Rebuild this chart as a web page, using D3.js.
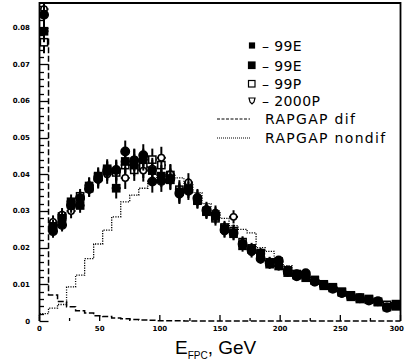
<!DOCTYPE html>
<html>
<head>
<meta charset="utf-8">
<script src="https://cdn.jsdelivr.net/npm/d3@7"></script>
<style>
  body { margin: 0; background: #fff; }
  svg { display: block; }
  .tick-label { font-family: "DejaVu Sans", sans-serif; font-size: 7px; font-weight: bold; fill: #000; }
  .legend text { font-family: "DejaVu Sans", sans-serif; font-size: 14px; fill: #000; }
</style>
</head>
<body>
<div id="chart"></div>
<script>

// bin edges in GeV (7.5 GeV bins)
let binEdges = [0, 7.5, 15, 22.5, 30, 37.5, 45, 52.5, 60, 67.5, 75, 82.5, 90, 97.5, 105, 112.5, 120, 127.5,
    135, 142.5, 150, 157.5, 165, 172.5, 180, 187.5, 195, 202.5, 210, 217.5, 225, 232.5, 240, 247.5,
    255, 262.5, 270, 277.5, 285, 292.5, 300];

// data points, one value per bin
let data99E_a = [0.0835, 0.0245, 0.0262, 0.0315, 0.0335, 0.0360, 0.0388, 0.0408, 0.0412, 0.0462, 0.0438, 0.0452,
    0.0380, 0.0382, 0.0388, 0.0348, 0.0355, 0.0335, 0.0302, 0.0290, 0.0248, 0.0240, 0.0210, 0.0192, 0.0170,
    0.0158, 0.0165, 0.0135, 0.0122, 0.0130, 0.0108, 0.0098, 0.0088, 0.0076, 0.0068, 0.0062, 0.0056, 0.0054, 0.0036, 0.0044];
let data99E_b = [0.0790, 0.0258, 0.0280, 0.0325, 0.0315, 0.0368, 0.0392, 0.0415, 0.0362, 0.0435, 0.0425, 0.0440,
    0.0410, 0.0395, 0.0385, 0.0352, 0.0360, 0.0328, 0.0298, 0.0285, 0.0252, 0.0238, 0.0205, 0.0195, 0.0182,
    0.0155, 0.0150, 0.0132, 0.0128, 0.0118, 0.0112, 0.0100, 0.0092, 0.0080, 0.0066, 0.0060, 0.0058, 0.0052, 0.0038, 0.0040];
let data99P = [0.0760, 0.0262, 0.0285, 0.0318, 0.0340, 0.0362, 0.0395, 0.0410, 0.0405, 0.0425, 0.0412, 0.0420,
    0.0440, 0.0425, 0.0398, 0.0358, 0.0365, 0.0330, 0.0300, 0.0280, 0.0255, 0.0245, 0.0215, 0.0198, 0.0185,
    0.0160, 0.0162, 0.0138, 0.0125, 0.0125, 0.0110, 0.0096, 0.0090, 0.0078, 0.0070, 0.0064, 0.0060, 0.0052, 0.0044, 0.0046];
let data2000P = [0.0850, 0.0270, 0.0290, 0.0300, 0.0335, 0.0370, 0.0385, 0.0400, 0.0410, 0.0390, 0.0440, 0.0410,
    0.0415, 0.0445, 0.0400, 0.0345, 0.0378, 0.0338, 0.0305, 0.0295, 0.0245, 0.0284, 0.0212, 0.0188, 0.0175,
    0.0162, 0.0150, 0.0140, 0.0130, 0.0120, 0.0105, 0.0100, 0.0090, 0.0075, 0.0068, 0.0060, 0.0056, 0.0055, 0.0040, 0.0042];
let errors = [0.0030, 0.0018, 0.0018, 0.0020, 0.0020, 0.0022, 0.0024, 0.0026, 0.0028, 0.0030, 0.0030, 0.0030,
    0.0030, 0.0030, 0.0028, 0.0026, 0.0025, 0.0022, 0.0020, 0.0020, 0.0018, 0.0018, 0.0016, 0.0015, 0.0014,
    0.0013, 0.0012, 0.0011, 0.0010, 0.0010, 0.0009, 0.0008, 0.0008, 0.0007, 0.0007, 0.0006, 0.0006, 0.0006, 0.0005, 0.0005];

// MC histograms
let rapgapDif = [0.0768, 0.0071, 0.0053, 0.0039, 0.0028, 0.0022, 0.0014, 0.0012, 0.0008, 0.0006, 0.0004, 0.0003,
    0.0002, 0.0001, 0.0001, 0.0001, 0, 0, 0, 0, 0, 0, 0, 0, 0, 0, 0, 0, 0, 0, 0, 0, 0, 0, 0, 0, 0, 0, 0, 0];
let rapgapNondif = [0.0020, 0.0035, 0.0045, 0.0093, 0.0125, 0.0170, 0.0210, 0.0248, 0.0284, 0.0325, 0.0343, 0.0362,
    0.0385, 0.0400, 0.0400, 0.0390, 0.0375, 0.0350, 0.0320, 0.0300, 0.0280, 0.0260, 0.0250, 0.0240, 0.0200,
    0.0190, 0.0165, 0.0150, 0.0135, 0.0125, 0.0110, 0.0100, 0.0090, 0.0080, 0.0070, 0.0065, 0.0058, 0.0050, 0.0045, 0.0050];

let yTicks = [0, 0.01, 0.02, 0.03, 0.04, 0.05, 0.06, 0.07, 0.08];
let xTicks = [0, 50, 100, 150, 200, 250, 300];
let legendLabels = ["\u2013 99E", "\u2013 99E", "\u2013 99P", "\u2013 2000P", "RAPGAP dif", "RAPGAP nondif"];

let width = 405, height = 363;

let svg = d3.select("#chart").append("svg")
    .attr("width", width)
    .attr("height", height);

let x = d3.scaleLinear().domain([0, 300]).range([39.5, 400.5]);
let y = d3.scaleLinear().domain([0, 0.0867]).range([321, 3]);

// frame (bottom edge is left to the dif histogram, like the original)
svg.append("path")
    .attr("d", `M${x(0)},${y(0)} V${y.range()[1]} H${x(300)} V${y(0)}`)
    .attr("fill", "none")
    .attr("stroke", "#000")
    .attr("stroke-width", 1.8);

// y axis ticks (inward)
let yMinor = d3.range(0, 0.0861, 0.002);
svg.append("g").selectAll("line")
    .data(yMinor)
    .join("line")
    .attr("x1", x(0))
    .attr("x2", (d, i) => x(0) + (i % 5 === 0 ? 9 : 4.5))
    .attr("y1", d => Math.round(y(d)) + 0.5)
    .attr("y2", d => Math.round(y(d)) + 0.5)
    .attr("stroke", "#000")
    .attr("stroke-width", 1.3);

svg.append("g").selectAll("text")
    .data(yTicks)
    .join("text")
    .attr("class", "tick-label")
    .attr("x", 30)
    .attr("y", d => y(d) + 2.5)
    .attr("text-anchor", "end")
    .text(d => d === 0 ? "0" : d3.format(".2f")(d));

// x axis ticks (upward)
let xMinor = d3.range(0, 301, 25);
svg.append("g").selectAll("line")
    .data(xMinor)
    .join("line")
    .attr("x1", d => x(d))
    .attr("x2", d => x(d))
    .attr("y1", y(0))
    .attr("y2", (d, i) => y(0) - (i % 2 === 0 ? 6 : 3))
    .attr("stroke", "#000")
    .attr("stroke-width", 1.3);

svg.append("g").selectAll("text")
    .data(xTicks)
    .join("text")
    .attr("class", "tick-label")
    .attr("x", d => d === 300 ? 404 : x(d))
    .attr("y", 331)
    .attr("text-anchor", d => d === 300 ? "end" : "middle")
    .text(d => d);

// histograms as step lines
function histPoints(vals) {
    let pts = vals.map((v, i) => [binEdges[i], v]);
    pts.push([binEdges[binEdges.length - 1], vals[vals.length - 1]]);
    return pts;
}

let step = d3.line()
    .curve(d3.curveStepAfter)
    .x(d => x(d[0]))
    .y(d => y(d[1]));

svg.append("path")
    .attr("d", step([[0, 0]].concat(histPoints(rapgapNondif))))
    .attr("fill", "none")
    .attr("stroke", "#000")
    .attr("stroke-width", 1.3)
    .attr("stroke-dasharray", "1.2,1.3");

svg.append("path")
    .attr("d", step(histPoints(rapgapDif)))
    .attr("fill", "none")
    .attr("stroke", "#000")
    .attr("stroke-width", 1.5)
    .attr("stroke-dasharray", "6,2.5");

// data points with error bars
let series = [
    {name: "99E_a", values: data99E_a, shape: "circle", fill: "#000"},
    {name: "99E_b", values: data99E_b, shape: "square", fill: "#000"},
    {name: "99P", values: data99P, shape: "square", fill: "#fff"},
    {name: "2000P", values: data2000P, shape: "circle", fill: "#fff"}
];

let centers = binEdges.slice(0, -1).map((e, i) => (e + binEdges[i + 1]) / 2);

// open markers first, filled ones on top
[series[2], series[3], series[1], series[0]].forEach(s => {
    let g = svg.append("g").attr("class", "series-" + s.name);
    let pts = s.values.map((v, i) => ({e: centers[i], v: v, err: errors[i]}));

    g.selectAll(".ebar")
        .data(pts)
        .join("line")
        .attr("class", "ebar")
        .attr("x1", d => x(d.e))
        .attr("x2", d => x(d.e))
        .attr("y1", d => y(Math.min(d.v + d.err, 0.0866)))
        .attr("y2", d => y(d.v - d.err))
        .attr("stroke", "#000")
        .attr("stroke-width", 2);

    g.selectAll(".hbar")
        .data(pts)
        .join("line")
        .attr("class", "hbar")
        .attr("x1", d => x(d.e) - 4.5)
        .attr("x2", d => x(d.e) + 4.5)
        .attr("y1", d => y(d.v))
        .attr("y2", d => y(d.v))
        .attr("stroke", "#000")
        .attr("stroke-width", 2);

    if (s.shape === "circle") {
        g.selectAll(".mk")
            .data(pts)
            .join("circle")
            .attr("class", "mk")
            .attr("cx", d => x(d.e))
            .attr("cy", d => y(d.v))
            .attr("r", s.fill === "#000" ? 4.2 : 3.2)
            .attr("fill", s.fill)
            .attr("stroke", "#000")
            .attr("stroke-width", 1.5);
    } else {
        g.selectAll(".mk")
            .data(pts)
            .join("rect")
            .attr("class", "mk")
            .attr("x", d => x(d.e) - 3.6)
            .attr("y", d => y(d.v) - 3.6)
            .attr("width", 7.2)
            .attr("height", 7.2)
            .attr("fill", s.fill)
            .attr("stroke", "#000")
            .attr("stroke-width", 1.5);
    }
});

// legend
let legend = svg.append("g").attr("class", "legend");
let legendY = [46, 65.5, 84, 101, 119, 138];

legendLabels.forEach((label, i) => {
    let ly = legendY[i];
    if (i < 4) {
        let s = series[i];
        if (s.shape === "circle" && s.fill === "#fff") {
            legend.append("path")
                .attr("d", `M${249},${ly - 3} h6 l-1,4 l-2,2 l-2,-2 z`)
                .attr("fill", "#fff")
                .attr("stroke", "#000")
                .attr("stroke-width", 1.2);
        } else {
            legend.append("rect")
                .attr("x", s.fill === "#000" && i === 0 ? 249.5 : 248.5)
                .attr("y", ly - (i === 0 ? 3 : 3.5))
                .attr("width", i === 0 ? 5 : 6.5)
                .attr("height", i === 0 ? 5 : 6.5)
                .attr("fill", s.fill)
                .attr("stroke", "#000")
                .attr("stroke-width", 1.2);
        }
        legend.append("text")
            .attr("x", 262)
            .attr("y", ly + 5)
            .attr("letter-spacing", 0.4)
            .text(label);
    } else {
        legend.append("line")
            .attr("x1", 217)
            .attr("x2", 250)
            .attr("y1", ly)
            .attr("y2", ly)
            .attr("stroke", "#000")
            .attr("stroke-width", 1)
            .attr("stroke-dasharray", i === 4 ? "3,1.5" : "1,1");
        legend.append("text")
            .attr("x", 265)
            .attr("y", ly + 5)
            .attr("letter-spacing", 1.3)
            .text(label);
    }
});

// x axis title
let title = svg.append("text")
    .attr("x", 175)
    .attr("y", 354)
    .attr("font-family", "Liberation Sans, Arial, sans-serif")
    .attr("font-size", 19)
    .attr("fill", "#000");
title.append("tspan").text("E");
title.append("tspan").attr("font-size", 10).attr("dy", 5).text("FPC");
title.append("tspan").attr("dy", -5).text(", GeV");

</script>
</body>
</html>
